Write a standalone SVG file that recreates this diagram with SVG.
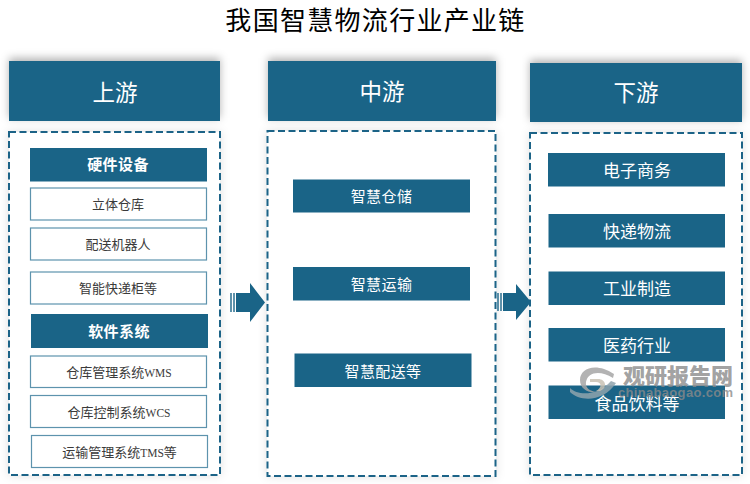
<svg xmlns="http://www.w3.org/2000/svg" width="750" height="484" viewBox="0 0 750 484">
<style>
text{font-family:"Noto Sans CJK SC","Liberation Serif",sans-serif;text-anchor:middle}
.hd{font-size:22.500px;fill:#fff}
.dash{fill:#fff;stroke:#1a6487;stroke-width:2;stroke-dasharray:7 3.500;filter:url(#sh2)}
.d{fill:#1a6487}
.dt{font-size:15px;fill:#fff;letter-spacing:.4px}
.dl{font-size:17px;fill:#fff}
.b{fill:#fff;stroke:#5d93ad;stroke-width:1.200}
.bt{font-size:13px;fill:#3a3a3a}
.la{font-size:11.500px;font-family:"Liberation Serif",serif}
.wm{fill:#8a8a8a;fill-opacity:.8}
</style>
<defs>
<filter id="sh2" x="-10%" y="-10%" width="120%" height="120%"><feDropShadow dx="0" dy="0" stdDeviation="5" flood-color="#000" flood-opacity=".12"/></filter>
<filter id="bl" x="-10%" y="-20%" width="120%" height="140%"><feGaussianBlur stdDeviation="4"/></filter>
</defs>
<text x="375.500" y="30" font-size="26" letter-spacing="1.300" fill="#000">我国智慧物流行业产业链</text>
<g id="upstream-head"><rect x="9" y="58" width="211" height="60" fill="#000" fill-opacity=".3" filter="url(#bl)"/><rect x="9" y="61" width="211" height="60" fill="#1a6487"/><text class="hd" x="115" y="101">上游</text></g>
<g id="midstream-head"><rect x="268" y="58" width="228" height="60" fill="#000" fill-opacity=".3" filter="url(#bl)"/><rect x="268" y="61" width="228" height="60" fill="#1a6487"/><text class="hd" x="382" y="100">中游</text></g>
<g id="downstream-head"><rect x="530" y="60" width="212" height="60" fill="#000" fill-opacity=".3" filter="url(#bl)"/><rect x="530" y="63" width="212" height="59" fill="#1a6487"/><text class="hd" x="636" y="101">下游</text></g>
<g id="upstream-panel"><rect class="dash" x="9" y="132" width="211" height="343"/></g>
<g id="midstream-panel"><rect class="dash" x="267.500" y="131" width="228" height="345"/></g>
<g id="downstream-panel"><rect class="dash" x="530" y="133" width="212" height="342"/></g>
<g id="n1"><rect class="d" x="30" y="148" width="177" height="33.500"/><text class="dt" x="118" y="170" font-weight="700">硬件设备</text></g>
<g id="n2"><rect class="b" x="30.500" y="188" width="176" height="32"/><text class="bt" x="118" y="209">立体仓库</text></g>
<g id="n3"><rect class="b" x="30.500" y="228" width="176" height="32"/><text class="bt" x="118" y="249">配送机器人</text></g>
<g id="n4"><rect class="b" x="30.500" y="272" width="176" height="32"/><text class="bt" x="118" y="293">智能快递柜等</text></g>
<g id="n5"><rect class="d" x="31" y="314" width="177" height="34"/><text class="dt" x="119" y="337" font-weight="700">软件系统</text></g>
<g id="n6"><rect class="b" x="30.500" y="356" width="176" height="31.500"/><text class="bt" x="119" y="377">仓库管理系统<tspan class="la">WMS</tspan></text></g>
<g id="n7"><rect class="b" x="30.500" y="395.500" width="176" height="32"/><text class="bt" x="119" y="417">仓库控制系统<tspan class="la">WCS</tspan></text></g>
<g id="n8"><rect class="b" x="31.500" y="435.500" width="176" height="32"/><text class="bt" x="119.500" y="457">运输管理系统<tspan class="la">TMS</tspan>等</text></g>
<g id="m1"><rect class="d" x="293" y="179.500" width="177" height="33"/><text class="dt" x="381.500" y="202">智慧仓储</text></g>
<g id="m2"><rect class="d" x="293" y="267" width="177" height="33.500"/><text class="dt" x="381.500" y="290">智慧运输</text></g>
<g id="m3"><rect class="d" x="294.500" y="353.500" width="177" height="33.500"/><text class="dt" x="383" y="377">智慧配送等</text></g>
<g id="d1"><rect class="d" x="548" y="153" width="177" height="33.500"/><text class="dl" x="637" y="177">电子商务</text></g>
<g id="d2"><rect class="d" x="548.500" y="214" width="176.500" height="33.500"/><text class="dl" x="637" y="238">快递物流</text></g>
<g id="d3"><rect class="d" x="548.500" y="271.500" width="176.500" height="33.500"/><text class="dl" x="637" y="295">工业制造</text></g>
<g id="d4"><rect class="d" x="548.500" y="328" width="176.500" height="33.500"/><text class="dl" x="637" y="352">医药行业</text></g>
<g id="d5"><rect class="d" x="548.500" y="385.500" width="176.500" height="33.500"/><text class="dl" x="637" y="410">食品饮料等</text></g>
<g id="connectors">
<path class="d" d="M236 293H250V283L265 302.500L250 322V312H236Z"/>
<path class="d" d="M230 293H232V312H230ZM233 293H235V312H233Z" fill-opacity=".7"/>
<path class="d" d="M503 293H516V284L531 302L516 320V311H503Z"/>
<path class="d" d="M497 293H499V311H497ZM500 293H502V311H500Z" fill-opacity=".7"/>
</g>
<g id="watermark">
<path d="M580 380C580 368 596 362 614 374L613 378C600 370 588 372 586 382C585 388 590 391 596 392C588 393 580 389 580 380Z" fill="#a6a6a6" fill-opacity=".85"/>
<path d="M570 388C578 396 598 396 611 381L616 383C604 402 580 402 570 392Z" fill="#8fa3ad" fill-opacity=".85"/>
<path d="M590 379H598C606 379 608 388 600 391H596C602 388 602 382 596 382H590Z" fill="#c9c2b4" fill-opacity=".85"/>
<text x="678" y="384" font-size="22" font-weight="900" class="wm">观研报告网</text>
<text x="675.500" y="397" font-size="13" font-weight="700" class="wm" style="font-family:'Liberation Sans',sans-serif" textLength="115" lengthAdjust="spacing">chinabaogao.com</text>
</g>
</svg>
